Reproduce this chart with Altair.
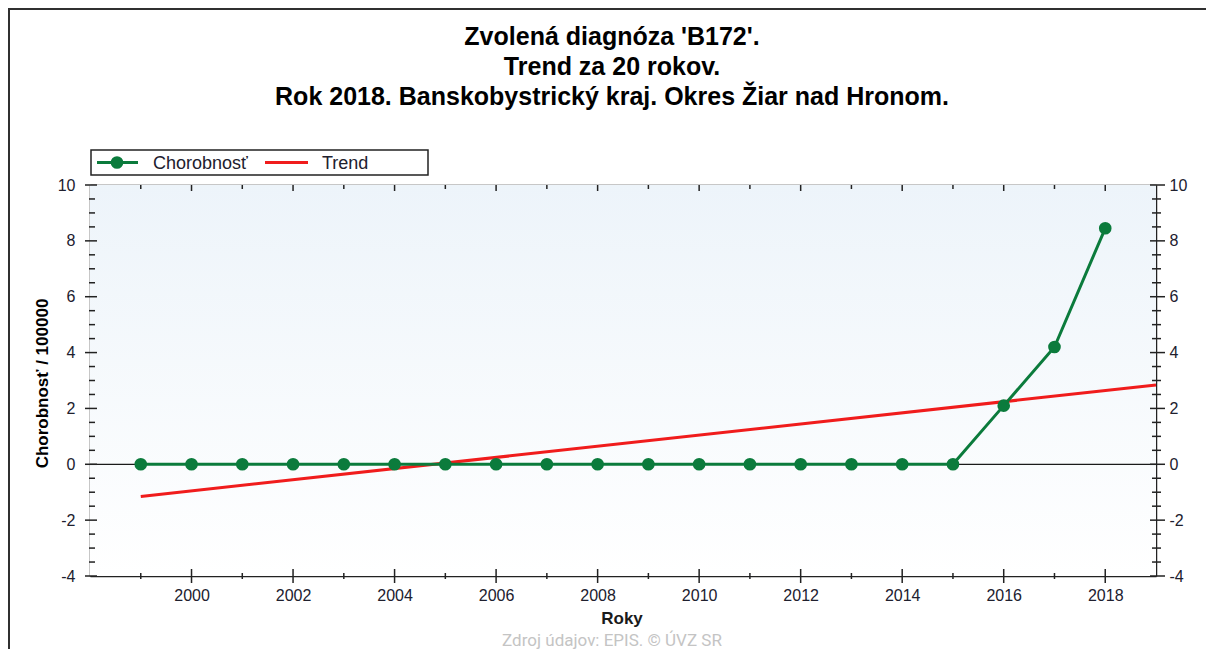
import altair as alt
import pandas as pd

# ---------------- data ----------------
YEARS = [1999, 2000, 2001, 2002, 2003, 2004, 2005, 2006, 2007, 2008,
         2009, 2010, 2011, 2012, 2013, 2014, 2015, 2016, 2017, 2018]
CHOROBNOST = [0, 0, 0, 0, 0, 0, 0, 0, 0, 0,
              0, 0, 0, 0, 0, 0, 0, 2.1, 4.2, 8.45]
TREND_YEARS = [1999, 2019]
TREND_VALUES = [-1.15, 2.84]

Y_MAJOR = [-4, -2, 0, 2, 4, 6, 8, 10]
Y_MINOR = [-3.5, -3, -2.5, -1.5, -1, -0.5, 0.5, 1, 1.5, 2.5, 3, 3.5,
           4.5, 5, 5.5, 6.5, 7, 7.5, 8.5, 9, 9.5]
X_MAJOR = [2000, 2002, 2004, 2006, 2008, 2010, 2012, 2014, 2016, 2018]
X_MINOR = [1999, 2001, 2003, 2005, 2007, 2009, 2011, 2013, 2015, 2017]
ZERO = [0]

TITLE_LINES = ["Zvolená diagnóza 'B172'.",
               "Trend za 20 rokov.",
               "Rok 2018. Banskobystrický kraj. Okres Žiar nad Hronom."]
SERIES_NAMES = ["Chorobnosť", "Trend"]
Y_TITLE = "Chorobnosť / 100000"
X_TITLE = "Roky"
SOURCE = "Zdroj údajov: EPIS. © ÚVZ SR"

# ---------------- style ----------------
W, H = 1066, 391
GREEN = "#0b7b3c"
RED = "#f01c1c"
AXC = "#222222"
LABC = "#20202e"
FONT = "Liberation Sans"

xs = alt.Scale(domain=[1998, 2019], nice=False, zero=False)
ys = alt.Scale(domain=[-4, 10], nice=False, zero=False)

df = pd.DataFrame({"year": YEARS, "value": CHOROBNOST})
tdf = pd.DataFrame({"year": TREND_YEARS, "value": TREND_VALUES})
one = pd.DataFrame({"a": [0]})


def ax(orient, values, labels=True, pad=14):
    return alt.Axis(orient=orient, values=values, labels=labels, ticks=False, tickSize=0,
                    domain=True, domainColor=AXC, domainWidth=1.5, grid=False, title=None,
                    labelFont=FONT, labelFontSize=16, labelColor=LABC, labelPadding=pad,
                    labelFlush=False, labelOverlap=False,
                    labelExpr="'' + datum.value")


# outer frame: top and left border lines only (the rest lies outside the picture)
frame_top = alt.Chart(one).mark_rule(color="#303030", strokeWidth=2).encode(
    x=alt.value(-82), x2=alt.value(W + 60), y=alt.value(-176))
frame_left = alt.Chart(one).mark_rule(color="#303030", strokeWidth=2).encode(
    x=alt.value(-81), y=alt.value(-177), y2=alt.value(H + 73))

bg = alt.Chart(one).mark_rect(
    fill=alt.LinearGradient(gradient="linear",
                            stops=[alt.GradientStop(color="#edf4fa", offset=0),
                                   alt.GradientStop(color="#ffffff", offset=1)],
                            x1=0, x2=0, y1=0, y2=1)
).encode(x=alt.value(0), x2=alt.value(W), y=alt.value(0), y2=alt.value(H))

zero = alt.Chart(pd.DataFrame({"v": ZERO})).mark_rule(color="#1a1a1a", strokeWidth=1.3).encode(
    y=alt.Y("v:Q", scale=ys, axis=None), x=alt.value(0), x2=alt.value(W))

trend = alt.Chart(tdf).mark_line(color=RED, strokeWidth=3).encode(
    x=alt.X("year:Q", scale=xs, axis=ax("bottom", X_MAJOR, pad=11)),
    y=alt.Y("value:Q", scale=ys, axis=ax("left", Y_MAJOR, pad=15)))

line = alt.Chart(df).mark_line(color=GREEN, strokeWidth=3).encode(
    x=alt.X("year:Q", scale=xs, axis=ax("top", X_MAJOR, labels=False)),
    y=alt.Y("value:Q", scale=ys, axis=ax("right", Y_MAJOR, pad=13)))

pts = alt.Chart(df).mark_point(filled=True, color=GREEN, size=160, opacity=1).encode(
    x=alt.X("year:Q", scale=xs, axis=None),
    y=alt.Y("value:Q", scale=ys, axis=None))


def yticks(vals, a, b):
    return alt.Chart(pd.DataFrame({"v": vals})).mark_rule(color=AXC, strokeWidth=1.5).encode(
        y=alt.Y("v:Q", scale=ys, axis=None), x=alt.value(a), x2=alt.value(b))


def xticks(vals, a, b):
    return alt.Chart(pd.DataFrame({"v": vals})).mark_rule(color=AXC, strokeWidth=1.5).encode(
        x=alt.X("v:Q", scale=xs, axis=None), y=alt.value(a), y2=alt.value(b))


ticks = [
    yticks(Y_MAJOR, -5, 7), yticks(Y_MINOR, -1, 5),
    yticks(Y_MAJOR, W - 6, W + 9), yticks(Y_MINOR, W - 4, W + 5),
    xticks(X_MAJOR, H - 7, H + 7), xticks(X_MINOR, H - 3, H + 3),
    xticks(X_MAJOR, 0, 6), xticks(X_MINOR, 0, 4),
]

# legend
leg_box = alt.Chart(one).mark_rect(fill="white", stroke="#222222", strokeWidth=1.5).encode(
    x=alt.value(1), x2=alt.value(338), y=alt.value(-35), y2=alt.value(-10))
leg_g = alt.Chart(one).mark_rule(color=GREEN, strokeWidth=3).encode(
    x=alt.value(7), x2=alt.value(48), y=alt.value(-22.5))
leg_gp = alt.Chart(one).mark_point(filled=True, color=GREEN, size=160, opacity=1).encode(
    x=alt.value(27), y=alt.value(-22.5))
leg_r = alt.Chart(one).mark_rule(color=RED, strokeWidth=3).encode(
    x=alt.value(175), x2=alt.value(218), y=alt.value(-22.5))
leg_t1 = alt.Chart(one).mark_text(text=SERIES_NAMES[0], font=FONT, fontSize=18, color=LABC,
                                  align="left", baseline="alphabetic").encode(
    x=alt.value(63), y=alt.value(-16))
leg_t2 = alt.Chart(one).mark_text(text=SERIES_NAMES[1], font=FONT, fontSize=18, color=LABC,
                                  align="left", baseline="alphabetic").encode(
    x=alt.value(232), y=alt.value(-16))

# texts
titles = [
    alt.Chart(one).mark_text(text=t, font=FONT, fontSize=25, fontWeight="bold", color="#000000",
                             align="center", baseline="alphabetic").encode(
        x=alt.value(522), y=alt.value(yv))
    for t, yv in zip(TITLE_LINES, [-140, -110, -80])
]
ytitle = alt.Chart(one).mark_text(text=Y_TITLE, font=FONT, fontSize=17, fontWeight="bold",
                                  color="#000000", angle=270, align="center",
                                  baseline="middle").encode(
    x=alt.value(-47), y=alt.value(H / 2 + 3))
xtitle = alt.Chart(one).mark_text(text=X_TITLE, font=FONT, fontSize=17, fontWeight="bold",
                                  color="#1a1a1a", align="center", baseline="alphabetic").encode(
    x=alt.value(532), y=alt.value(H + 48))
source = alt.Chart(one).mark_text(text=SOURCE, font="Roboto", fontSize=17, color="#c4c4c4",
                                  align="center", baseline="alphabetic").encode(
    x=alt.value(522), y=alt.value(H + 70))

chart = alt.layer(
    frame_top, frame_left, bg, zero, trend, line, pts, *ticks,
    leg_box, leg_g, leg_gp, leg_r, leg_t1, leg_t2,
    *titles, ytitle, xtitle, source,
).resolve_axis(x="independent", y="independent").properties(
    width=W, height=H,
    padding={"left": 82, "top": 177, "right": 50, "bottom": 73},
    autosize=alt.AutoSizeParams(type="none"),
).configure_view(stroke=None)

chart.save("out.html", embed_options={"renderer": "svg", "actions": False})
